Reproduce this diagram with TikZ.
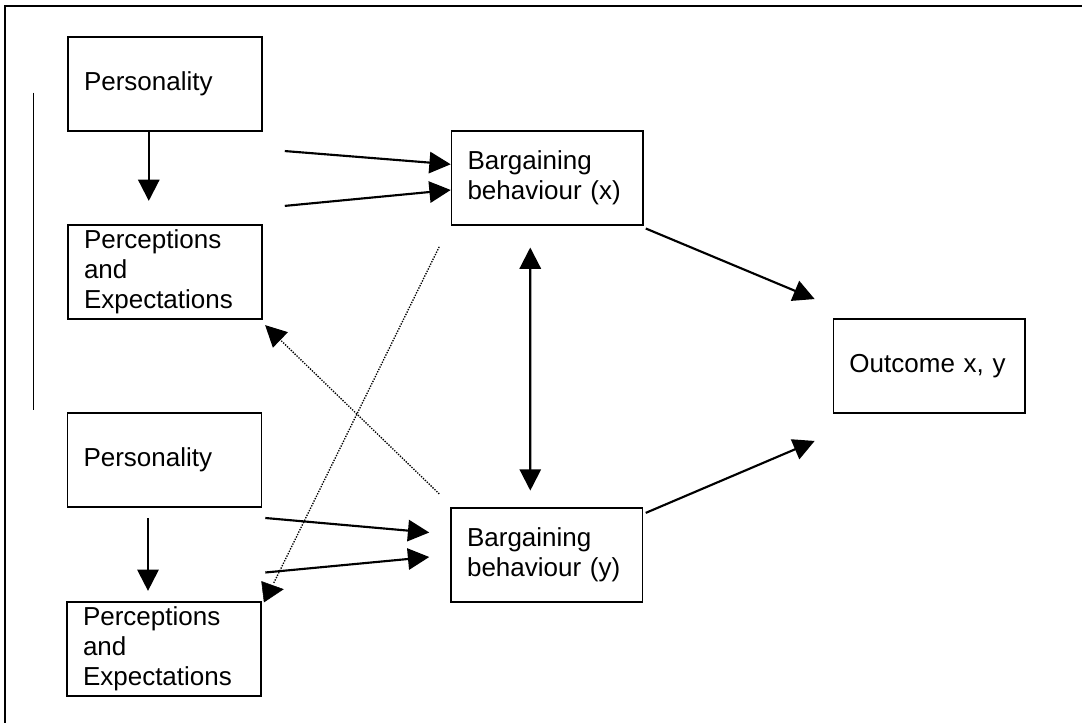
\documentclass[tikz,border=0pt]{standalone}
\usepackage{fontspec}
\setmainfont{Liberation Sans}
\usetikzlibrary{arrows.meta}

\begin{document}
\begin{tikzpicture}[x=0.75pt,y=-0.75pt,
  box/.style={draw, line width=1.2pt, rectangle, inner xsep=12pt, inner ysep=0pt,
    align=left, anchor=center, minimum height=70.5pt,
    font=\fontsize{19.5}{22.5}\selectfont},
  leftbox/.style={box, text width=121.5pt, minimum width=145.5pt},
  midbox/.style={box, text width=119.6pt, minimum width=143.6pt},
  head/.tip={Triangle[length=16pt,width=16pt]},
  arr/.style={line width=1.6pt, -head},
  twoway/.style={line width=1.6pt, head-head},
  dotline/.style={line width=1pt, dash pattern=on 1pt off 1pt},
  dotarr/.style={dotline, -head},
  tiponly/.style={-head}
]
\useasboundingbox (0,0) rectangle (1082,723);

% partial outer frame and the bracket line on the left
\draw[line width=1.5pt] (5,723) -- (5,6) -- (1082,6);
\draw[line width=1.2pt] (33.4,92.7) -- (33.4,410);

% boxes
\node[leftbox] (p1) at (165,84.25) {Personality};
\node[leftbox] (e1) at (165,272) {Perceptions\\and\\Expectations};
\node[leftbox] (p2) at (164.5,460.2) {Personality};
\node[leftbox] (e2) at (164,648.7) {Perceptions\\and\\Expectations};
\node[midbox] (bx) at (547.25,178) {Bargaining\\behaviour (x)};
\node[midbox] (by) at (546.8,555) {Bargaining\\behaviour (y)};
\node[midbox] (out) at (929.2,365.85) {Outcome x, y};

% personality feeds perceptions
\draw[arr] ([shift={(-16.2,0)}]p1.south) -- ([shift={(-16.2,-23.3)}]e1.north);
\draw[arr] ([shift={(-16.5,10)}]p2.south) -- ([shift={(-16,-10)}]e2.north);

% both feed bargaining behaviour
\draw[arr] ([shift={(22,19)}]p1.south east) -- ([shift={(0,-13.7)}]bx.west);
\draw[arr] ([shift={(22,-18.3)}]e1.north east) -- ([shift={(0,12)}]bx.west);
\draw[arr] ([shift={(3,10)}]p2.south east) -- ([shift={(-21,-22.5)}]by.west);
\draw[arr] ([shift={(3.5,-28.4)}]e2.north east) -- ([shift={(-21,2)}]by.west);

% bargaining leads to the outcome
\draw[arr] ([shift={(2,2.7)}]bx.south east) -- ([shift={(-18,-19)}]out.north west);
\draw[arr] ([shift={(2.4,5.7)}]by.north east) -- ([shift={(-18,27.3)}]out.south west);

% interaction between the two parties
\draw[twoway] ([shift={(-17,21.7)}]bx.south) -- ([shift={(-16.5,-16.6)}]by.north);

% cross-influence on the other party's perceptions
\coordinate (d1) at ([shift={(12,-18)}]e2.north east);
\draw[dotline] ([shift={(-11.5,21)}]bx.south west) -- (d1);
\draw[tiponly] ([shift={(1.5,-9.2)}]e2.north east) -- ([shift={(22,-11.7)}]e2.north east);
\draw[dotarr] ([shift={(-11,-13.3)}]by.north west) -- ([shift={(2.3,5.3)}]e1.south east);

\end{tikzpicture}
\end{document}
